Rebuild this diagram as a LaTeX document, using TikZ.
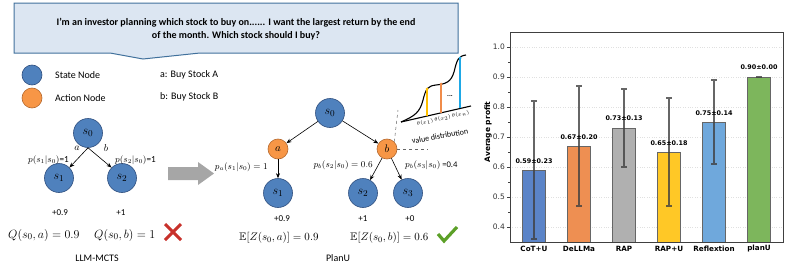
\documentclass[tikz,border=0pt]{standalone}
\usepackage{amssymb}
\usepackage{fontspec}
\setmainfont{Carlito}
\newfontfamily\plotfont{DejaVu Sans}
\usetikzlibrary{arrows.meta}

\definecolor{boxfill}{HTML}{DCE6F2}
\definecolor{boxline}{HTML}{41719C}
\definecolor{statefill}{HTML}{4F81BD}
\definecolor{stateline}{HTML}{2F4F7F}
\definecolor{actfill}{HTML}{F79646}
\definecolor{actline}{HTML}{B4682E}
\definecolor{crossred}{HTML}{C8312B}
\definecolor{tickgreen}{HTML}{5CA028}
\definecolor{barblue}{HTML}{5B84C8}
\definecolor{barorange}{HTML}{EE8F52}
\definecolor{bargray}{HTML}{B0B0B0}
\definecolor{baryellow}{HTML}{FFC826}
\definecolor{barsky}{HTML}{6FA8DC}
\definecolor{bargreen}{HTML}{7DB65C}
\definecolor{valyellow}{HTML}{FFC000}
\definecolor{valorange}{HTML}{F08C4A}
\definecolor{valblue}{HTML}{1EA8E6}

\tikzset{
  statenode/.style={circle,draw=stateline,fill=statefill,line width=0.6pt,minimum size=29pt,inner sep=0pt,font=\fontsize{13}{13}\selectfont},
  actnode/.style={circle,draw=actline,fill=actfill,line width=0.6pt,minimum size=20pt,inner sep=0pt,font=\fontsize{11}{11}\selectfont},
  treearrow/.style={-{Stealth[length=5pt,width=4pt]},line width=0.6pt},
  problabel/.style={font=\fontsize{8.6}{8.6}\selectfont,inner sep=0pt},
  rewlabel/.style={font=\fontsize{9}{9}\selectfont,inner sep=0pt},
  bigmath/.style={font=\fontsize{12.5}{12.5}\selectfont,inner sep=0pt},
  legendtext/.style={font=\fontsize{10}{10}\selectfont,anchor=west,inner sep=0pt},
  thetalabel/.style={font=\fontsize{3.1}{3.1}\selectfont,rotate=13,inner sep=0pt},
  bar/.style={draw=black!60,line width=0.7pt},
  errbar/.style={draw=black!75,line width=1.2pt,opacity=0.8},
  barval/.style={font=\plotfont\bfseries\fontsize{6.4}{6.4}\selectfont,inner sep=0pt},
  barname/.style={font=\plotfont\bfseries\fontsize{7.2}{7.2}\selectfont,inner sep=0pt},
  ticklabel/.style={font=\plotfont\fontsize{7.5}{7.5}\selectfont,anchor=east,inner sep=0pt,text=black!80}
}

\begin{document}
\begin{tikzpicture}[x=1pt,y=-1pt]
\useasboundingbox (0,0) rectangle (785,265);

% question box
\draw[boxline,fill=boxfill,line width=1pt] (14,3) -- (458,3) -- (458,53) -- (200,53) -- (143,59) -- (110,53) -- (14,53) -- cycle;
\node[font=\bfseries\fontsize{10}{12.5}\selectfont,align=center] (question) at (236,29)
  {I'm an investor planning which stock to buy on...... I want the largest return by the end\\of the month. Which stock should I buy?};

% legend
\node[statenode,minimum size=20pt] (legstate) at (32,75) {};
\node[actnode] (legact) at (32,98) {};
\node[legendtext] (legstatetxt) at (55,75) {State Node};
\node[legendtext] (legacttxt) at (55,98) {Action Node};
\node[legendtext] (legatxt) at (160,75) {a: Buy Stock A};
\node[legendtext] (legbtxt) at (160,97) {b: Buy Stock B};

% LLM-MCTS
\node[statenode] (m0) at (88,133) {$s_0$};
\node[statenode] (m1) at (59,178) {$s_1$};
\node[statenode] (m2) at (122,178) {$s_2$};
\draw[treearrow] (m0.south) -- (m1.north east);
\draw[treearrow] (m0.south) -- (m2.north west);
\node[font=\fontsize{10}{10}\selectfont,inner sep=0pt] (ma) at (77,148) {$a$};
\node[font=\fontsize{10}{10}\selectfont,inner sep=0pt] (mb) at (106,148) {$b$};
\node[problabel,anchor=east,font=\fontsize{9.2}{9.2}\selectfont] (mp1) at (69,160) {$p(s_1|s_0)$=1};
\node[problabel,anchor=west,font=\fontsize{9.2}{9.2}\selectfont] (mp2) at (115,160) {$p(s_2|s_0)$=1};
\node[rewlabel] (mr1) at (60,213) {+0.9};
\node[rewlabel] (mr2) at (121,213) {+1};
\node[bigmath,anchor=west] (mq1) at (8,235) {$Q(s_0,a)=0.9$};
\node[bigmath,anchor=west] (mq2) at (94,235) {$Q(s_0,b)=1$};
\draw[crossred,line width=3pt] (165,224) -- (181,240) (181,224) -- (165,240);
\node[legendtext,anchor=center] (mname) at (97,258) {LLM-MCTS};

% gray arrow
\fill[black!35] (168,167) -- (198,167) -- (198,162) -- (214,173.5) -- (198,185) -- (198,180) -- (168,180) -- cycle;

% PlanU
\node[statenode] (u0) at (330,113) {$s_0$};
\node[actnode] (ua) at (278,149) {$a$};
\node[actnode] (ub) at (387,149) {$b$};
\node[statenode] (u1) at (278,193) {$s_1$};
\node[statenode] (u2) at (363,193) {$s_2$};
\node[statenode] (u3) at (408,193) {$s_3$};
\draw[treearrow] (u0) -- (ua);
\draw[treearrow] (u0) -- (ub);
\draw[treearrow] (ua) -- (u1);
\draw[treearrow] (ub) -- (u2);
\draw[treearrow] (ub) -- (u3);
\node[problabel,anchor=east] (up1) at (268,167) {$p_a(s_1|s_0)=1$};
\node[problabel,anchor=east] (up2) at (373,165) {$p_b(s_2|s_0)=0.6$};
\node[problabel,anchor=west] (up3) at (405,165) {$p_b(s_3|s_0)$ =0.4};
\node[rewlabel] (ur1) at (282,219) {+0.9};
\node[rewlabel] (ur2) at (363,219) {+1};
\node[rewlabel] (ur3) at (410,219) {+0};
\node[bigmath,anchor=west,font=\fontsize{11}{11}\selectfont] (ue1) at (239,238) {$\mathbb{E}[Z(s_0,a)]=0.9$};
\node[bigmath,anchor=west,font=\fontsize{11}{11}\selectfont] (ue2) at (350,238) {$\mathbb{E}[Z(s_0,b)]=0.6$};
\draw[tickgreen,line width=3.2pt] (438,234) -- (444,241) -- (457,227);
\node[legendtext,anchor=center] (uname) at (338,258) {PlanU};

% value distribution
\coordinate (vstart) at (401,122);
\coordinate (vend) at (471,106);
\draw[black!60,dashed,line width=0.5pt] (ub.north east) -- (398,110);
\draw[black!60,dashed,line width=0.5pt] (ub.east) -- (428,149);
\draw[line width=1.1pt] (vstart) -- (vend);
\draw[line width=1.1pt] (vstart) .. controls (415,116) and (420,112) .. (423,100) .. controls (426,88) and (428,86) .. (436,85) .. controls (446,84) and (451,82) .. (454,72) .. controls (457,60) and (458,56) .. (466,55);
\draw[valyellow,line width=1.1pt] (427,116) -- (427,89);
\draw[valorange,line width=1.1pt] (441,113) -- (441,84);
\draw[valblue,line width=1.1pt] (460,108) -- (460,58);
\fill[valyellow] (427,89) circle (1.5);
\fill[valorange] (441,84) circle (1.5);
\fill[valblue] (460,58) circle (1.5);
\node[font=\bfseries\fontsize{7}{7}\selectfont,inner sep=0pt] (vdots) at (450,96) {...};
\node[thetalabel] (vth1) at (425,122.5) {$\theta(x_1)$};
\node[thetalabel] (vth2) at (442.5,118.5) {$\theta(x_2)$};
\node[thetalabel] (vthn) at (460.5,114.5) {$\theta(x_n)$};
\node[font=\fontsize{8}{8}\selectfont,rotate=10,inner sep=0pt] (vname) at (440,136) {value distribution};

% bar chart
\draw[black!12,dotted] (510,47) -- (783,47) (510,77) -- (783,77) (510,107) -- (783,107) (510,137) -- (783,137) (510,167) -- (783,167) (510,197) -- (783,197) (510,227) -- (783,227);
\draw[bar,fill=barblue] (522.5,242) rectangle (545.5,170);
\draw[bar,fill=barorange] (567.5,242) rectangle (590.5,146);
\draw[bar,fill=bargray] (612.5,242) rectangle (635.5,128);
\draw[bar,fill=baryellow] (657.5,242) rectangle (680.5,152);
\draw[bar,fill=barsky] (702.5,242) rectangle (725.5,122);
\draw[bar,fill=bargreen] (747.5,242) rectangle (770.5,77);
\draw[errbar] (534,239) -- (534,101) (531,239) -- (537,239) (531,101) -- (537,101);
\draw[errbar] (579,206) -- (579,86) (576,206) -- (582,206) (576,86) -- (582,86);
\draw[errbar] (624,167) -- (624,89) (621,167) -- (627,167) (621,89) -- (627,89);
\draw[errbar] (669,206) -- (669,98) (666,206) -- (672,206) (666,98) -- (672,98);
\draw[errbar] (714,164) -- (714,80) (711,164) -- (717,164) (711,80) -- (717,80);
\draw[errbar] (756,77) -- (762,77);
\draw[black!75,line width=0.8pt] (510,32) rectangle (783,242);
\draw[black!75,line width=0.6pt] (507,47) -- (510,47) (507,77) -- (510,77) (507,107) -- (510,107) (507,137) -- (510,137) (507,167) -- (510,167) (507,197) -- (510,197) (507,227) -- (510,227);
\draw[black!75,line width=0.4pt] (508,62) -- (510,62) (508,92) -- (510,92) (508,122) -- (510,122) (508,152) -- (510,152) (508,182) -- (510,182) (508,212) -- (510,212);
\node[ticklabel] (y10) at (505,47) {1.0};
\node[ticklabel] (y09) at (505,77) {0.9};
\node[ticklabel] (y08) at (505,107) {0.8};
\node[ticklabel] (y07) at (505,137) {0.7};
\node[ticklabel] (y06) at (505,167) {0.6};
\node[ticklabel] (y05) at (505,197) {0.5};
\node[ticklabel] (y04) at (505,227) {0.4};
\node[font=\plotfont\bfseries\fontsize{7.5}{7.5}\selectfont,rotate=90,inner sep=0pt] (ylabel) at (488,132) {Average profit};
\node[barval] (v1) at (534,161) {0.59±0.23};
\node[barval] (v2) at (579,137) {0.67±0.20};
\node[barval] (v3) at (624,118) {0.73±0.13};
\node[barval] (v4) at (669,143) {0.65±0.18};
\node[barval] (v5) at (714,113) {0.75±0.14};
\node[barval] (v6) at (759,67) {0.90±0.00};
\node[barname] (n1) at (534,249) {CoT+U};
\node[barname] (n2) at (579,249) {DeLLMa};
\node[barname] (n3) at (624,249) {RAP};
\node[barname] (n4) at (669,249) {RAP+U};
\node[barname] (n5) at (714,249) {Reflextion};
\node[barname] (n6) at (759,249) {planU};
\end{tikzpicture}
\end{document}
